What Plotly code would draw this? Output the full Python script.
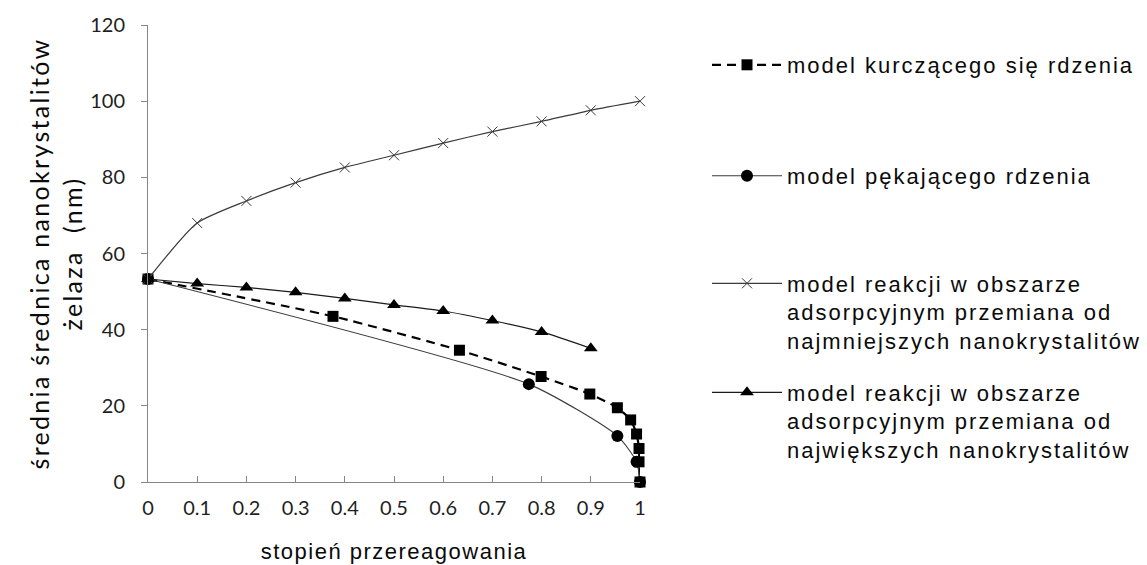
import plotly.graph_objects as go

# ---- data ----
sq_x = [0, 0.376, 0.633, 0.799, 0.898, 0.954, 0.981, 0.993, 0.998, 0.998, 1.0]
sq_y = [53.3, 43.5, 34.6, 27.7, 23.1, 19.5, 16.3, 12.6, 8.8, 5.3, 0.0]

ci_x = [0, 0.774, 0.954, 0.993, 1.0]
ci_y = [53.3, 25.7, 12.1, 5.3, 0.0]

cr_x = [0, 0.1, 0.2, 0.3, 0.4, 0.5, 0.6, 0.7, 0.8, 0.9, 1.0]
cr_y = [53.3, 68.0, 73.8, 78.6, 82.6, 85.8, 89.0, 92.0, 94.7, 97.6, 100.0]

tr_x = [0, 0.1, 0.2, 0.3, 0.4, 0.5, 0.6, 0.7, 0.8, 0.9]
tr_y = [53.3, 52.1, 51.1, 49.8, 48.2, 46.5, 44.9, 42.4, 39.4, 35.1]

names = [
    ["model kurczącego się rdzenia"],
    ["model pękającego rdzenia"],
    ["model reakcji w obszarze", "adsorpcyjnym przemiana od", "najmniejszych nanokrystalitów"],
    ["model reakcji w obszarze", "adsorpcyjnym przemiana od", "największych nanokrystalitów"],
]
x_title = "stopień przereagowania"
y_title = ["średnia średnica nanokrystalitów", "żelaza  (nm)"]


def spaced(lines, ls):
    return "<br>".join(f'<span style="letter-spacing:{ls}px">{t}</span>' for t in lines)


W, H = 1147, 565
L, R, T, B = 148, 640, 25, 482

fig = go.Figure()
fig.add_trace(go.Scatter(
    x=sq_x, y=sq_y, mode="lines+markers", name=spaced(names[0], 2),
    line=dict(color="#000000", width=2.2, dash="9px,6px", shape="spline", smoothing=0.6),
    marker=dict(symbol="square", size=11, color="#000000"),
    cliponaxis=False, legend="legend"))
fig.add_trace(go.Scatter(
    x=ci_x, y=ci_y, mode="lines+markers", name=spaced(names[1], 2),
    line=dict(color="#3a3a3a", width=1.1, shape="spline", smoothing=0.6),
    marker=dict(symbol="circle", size=12, color="#000000"),
    cliponaxis=False, legend="legend2"))
fig.add_trace(go.Scatter(
    x=cr_x, y=cr_y, mode="lines+markers", name=spaced(names[2], 2),
    line=dict(color="#3a3a3a", width=1.2, shape="spline", smoothing=0.6),
    marker=dict(symbol="x-thin-open", size=10, color="#3a3a3a", line=dict(width=1, color="#3a3a3a")),
    cliponaxis=False, legend="legend3"))
fig.add_trace(go.Scatter(
    x=tr_x, y=tr_y, mode="lines+markers", name=spaced(names[3], 2),
    line=dict(color="#1a1a1a", width=1.2, shape="spline", smoothing=0.6),
    marker=dict(symbol="triangle-up", size=12, color="#000000"),
    cliponaxis=False, legend="legend4"))

legfont = dict(family="Liberation Sans, Arial, sans-serif", size=22, color="#0a0a0a")
common = dict(xref="container", yref="container", xanchor="left", yanchor="middle",
              font=legfont, bgcolor="rgba(0,0,0,0)", borderwidth=0, itemwidth=70,
              itemclick=False, itemdoubleclick=False, tracegroupgap=0)
leg_x = 707 / W

fig.update_layout(
    width=W, height=H,
    margin=dict(l=L, r=W - R, t=T, b=H - B, pad=0),
    paper_bgcolor="white", plot_bgcolor="white",
    showlegend=True,
    legend=dict(x=leg_x, y=1 - 65 / H, valign="middle", **common),
    legend2=dict(x=leg_x, y=1 - 176 / H, valign="middle", **common),
    legend3=dict(x=leg_x, y=1 - 312 / H, valign="top", **common),
    legend4=dict(x=leg_x, y=1 - 421 / H, valign="top", **common),
    xaxis=dict(
        range=[0, 1], dtick=0.1, tick0=0, showgrid=False, zeroline=False,
        showline=True, linecolor="#868686", linewidth=1, automargin=False,
        ticks="inside", ticklen=6, tickcolor="#868686", tickwidth=1,
        tickfont=dict(family="Lato, sans-serif", size=20, color="#1f1f1f"),
        ticklabelstandoff=8,
        title=dict(text=f'<span style="letter-spacing:1.5px">{x_title}</span>',
                   font=dict(family="Liberation Sans, Arial, sans-serif", size=22, color="#0a0a0a"),
                   standoff=25),
    ),
    yaxis=dict(
        range=[0, 120], dtick=20, tick0=0, showgrid=False, zeroline=False,
        showline=True, linecolor="#868686", linewidth=1, automargin=False,
        ticks="outside", ticklen=6, tickcolor="#868686", tickwidth=1,
        tickfont=dict(family="Lato, sans-serif", size=20, color="#1f1f1f"),
        ticklabelstandoff=12,
        title=dict(text=spaced(y_title, 2.3),
                   font=dict(family="Lato, sans-serif", size=25, color="#0a0a0a"),
                   standoff=0),
    ),
)

fig.write_html("out.html", config={"displayModeBar": False},
               post_script="document.body.style.margin='0';")
